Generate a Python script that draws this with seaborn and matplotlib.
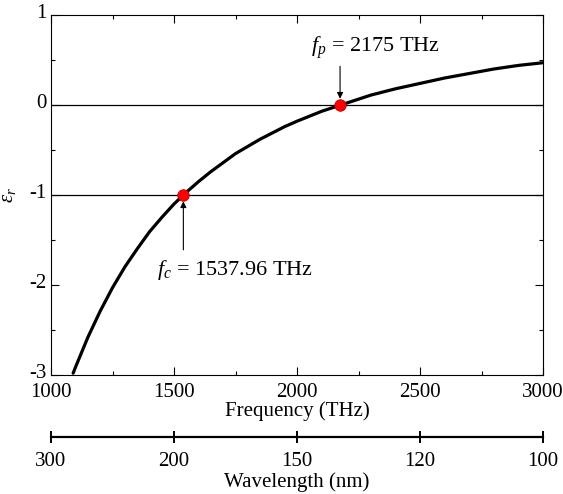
import numpy as np
import pandas as pd
import matplotlib
matplotlib.use("Agg")
import matplotlib.pyplot as plt
from matplotlib.ticker import MultipleLocator
from matplotlib.transforms import ScaledTranslation
import seaborn as sns

# permittivity curve
freq = [1090, 1100, 1150, 1200, 1250, 1300, 1350, 1400, 1450, 1500, 1550, 1600, 1650,
        1700, 1750, 1800, 1850, 1900, 1950, 2000, 2100, 2200, 2300, 2400, 2500, 2600,
        2700, 2800, 2900, 3000]
eps = [-2.98, -2.91, -2.58, -2.29, -2.03, -1.80, -1.60, -1.41, -1.25, -1.10, -0.97, -0.85,
       -0.74, -0.64, -0.54, -0.46, -0.38, -0.31, -0.24, -0.18, -0.07, 0.02, 0.11, 0.18,
       0.24, 0.30, 0.35, 0.40, 0.44, 0.47]

# marked points
pt_f = [1537.96, 2175]
pt_eps = [-1, 0]

# secondary axis (wavelength in nm)
wl_ticks = [300, 200, 150, 120, 100]

sns.set_style("ticks")
plt.rcParams['font.family'] = ['Liberation Serif', 'DejaVu Serif']
plt.rcParams['mathtext.fontset'] = 'custom'
plt.rcParams['mathtext.rm'] = 'Liberation Serif'
plt.rcParams['mathtext.it'] = 'Liberation Serif:italic'
plt.rcParams['axes.unicode_minus'] = False
plt.rcParams['text.color'] = 'k'
plt.rcParams['axes.labelcolor'] = 'k'
plt.rcParams['xtick.color'] = 'k'
plt.rcParams['ytick.color'] = 'k'
plt.rcParams['axes.edgecolor'] = 'k'

df = pd.DataFrame({'f': freq, 'eps': eps})
dp = pd.DataFrame({'f': pt_f, 'eps': pt_eps})

fig = plt.figure(figsize=(5.63, 4.94), dpi=100)
ax = fig.add_axes([0.0906, 0.2409, 0.8739, 0.7287])

ax.axhline(0, color='k', lw=0.9, zorder=1)
ax.axhline(-1, color='k', lw=0.9, zorder=1)
sns.lineplot(df, x='f', y='eps', ax=ax, color='k', lw=2.3, zorder=2)
sns.scatterplot(dp, x='f', y='eps', ax=ax, color='red', s=70, edgecolor='#aa0000',
                linewidth=0.5, zorder=3)

arrow = dict(arrowstyle='-|>', color='k', lw=0.8, shrinkA=0, shrinkB=0, mutation_scale=9)
ax.annotate('', xy=(2175, 0.07), xytext=(2175, 0.43), arrowprops=arrow)
ax.annotate('', xy=(1537.96, -1.07), xytext=(1537.96, -1.61), arrowprops=arrow)
ax.text(2321, 0.64, r'$f_p$ = 2175 THz', ha='center', va='center', fontsize=16)
ax.text(1748, -1.83, r'$f_c$ = 1537.96 THz', ha='center', va='center', fontsize=16)

ax.set_xlim(1000, 3000)
ax.set_ylim(-3, 1)
ax.xaxis.set_major_locator(MultipleLocator(500))
ax.xaxis.set_minor_locator(MultipleLocator(250))
ax.yaxis.set_major_locator(MultipleLocator(1))
ax.yaxis.set_minor_locator(MultipleLocator(0.5))
ax.tick_params(which='both', direction='in', top=True, right=True, labelsize=15, width=0.8)
ax.tick_params(axis='x', pad=6)
ax.tick_params(which='major', length=6)
ax.tick_params(which='minor', length=3)
for s in ax.spines.values():
    s.set_linewidth(0.8)
ax.set_xlabel('Frequency (THz)', fontsize=15, labelpad=-1)
ax.set_ylabel(r'$\varepsilon_r$', fontsize=15, labelpad=8)

# wavelength axis below
ax2 = fig.add_axes([0.0906, 0.1154, 0.8739, 0.0001])
for k in ['left', 'right', 'top']:
    ax2.spines[k].set_visible(False)
ax2.spines['bottom'].set_linewidth(1.6)
ax2.set_xlim(1000, 3000)
ax2.set_yticks([])
c = 299792.458  # nm*THz
ax2.set_xticks([c / w for w in wl_ticks])
ax2.set_xticklabels([str(w) for w in wl_ticks])
ax2.tick_params(axis='x', direction='inout', length=9, width=1.4, labelsize=15, pad=6)
ax2.set_xlabel('Wavelength (nm)', fontsize=15, labelpad=1)

# nudge the y tick labels up a little so "-3" clears "1000"
fig.canvas.draw()
shift = ScaledTranslation(0, 3 / 72, fig.dpi_scale_trans)
for t in ax.yaxis.get_major_ticks():
    t.label1.set_transform(t.label1.get_transform() + shift)

fig.savefig('out.png', dpi=100)
